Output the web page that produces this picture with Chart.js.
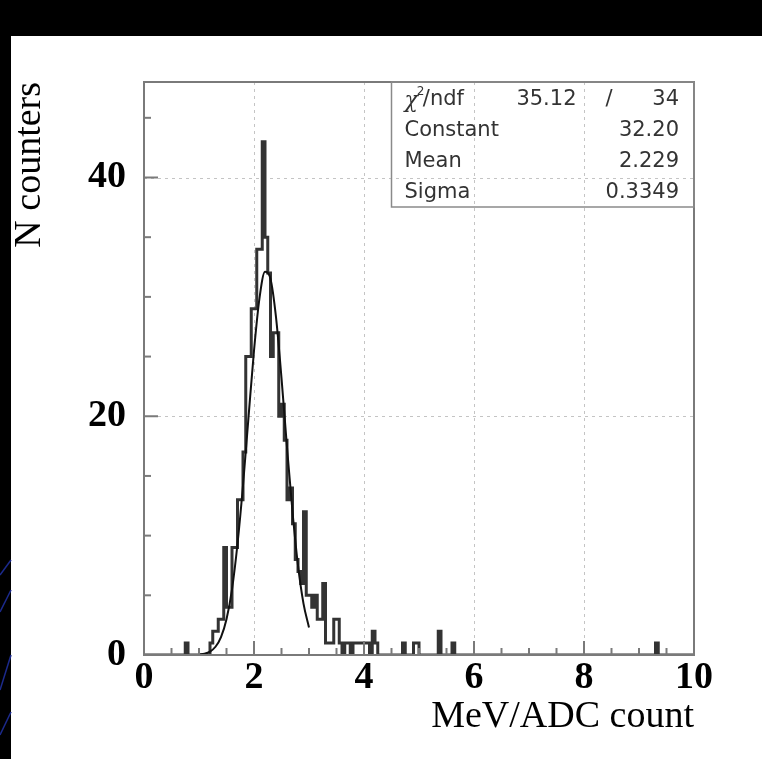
<!DOCTYPE html>
<html>
<head>
<meta charset="utf-8">
<script src="https://cdn.jsdelivr.net/npm/chart.js@4.4.1/dist/chart.umd.min.js"></script>
<style>
  html, body { margin: 0; padding: 0; background: #000; }
  #panel { position: absolute; left: 11px; top: 36px; width: 751px; height: 723px; background: #fff; }
  #chart { position: absolute; left: 0; top: 0; }
</style>
</head>
<body>
<div id="panel"></div>
<canvas id="chart" width="762" height="759"></canvas>
<script>
// Histogram: 0.05 wide bins over 0..10, only non-empty bins listed (low edge, entries)
const binWidth = 0.05;
const xMin = 0;
const xMax = 10;
const binLow = [0.75, 1.20, 1.25, 1.30, 1.35, 1.40, 1.45, 1.50, 1.55, 1.60,
                1.65, 1.70, 1.75, 1.80, 1.85, 1.90, 1.95, 2.00, 2.05, 2.10,
                2.15, 2.20, 2.25, 2.30, 2.35, 2.40, 2.45, 2.50, 2.55, 2.60,
                2.65, 2.70, 2.75, 2.80, 2.85, 2.90, 2.95, 3.00, 3.05, 3.10,
                3.15, 3.20, 3.25, 3.30, 3.35, 3.40, 3.45, 3.50, 3.55, 3.65,
                3.70, 3.80, 3.85, 3.90, 3.95, 4.00, 4.05, 4.15, 4.20, 4.70,
                4.90, 4.95, 5.35, 5.60, 9.30];
const binCount = [1, 1, 2, 2, 3, 3, 9, 4, 4, 9,
                  9, 13, 13, 17, 25, 25, 29, 29, 34, 34,
                  43, 35, 32, 25, 27, 27, 20, 21, 18, 13,
                  14, 11, 8, 7, 6, 12, 5, 5, 4, 5,
                  3, 3, 6, 1, 1, 1, 3, 3, 1, 1,
                  1, 1, 1, 1, 1, 1, 1, 2, 1, 1,
                  1, 1, 2, 1, 1];

// Gaussian fit curve
const fitX = [1.0, 1.1, 1.2, 1.3, 1.4, 1.5, 1.6, 1.7, 1.8, 1.9, 2.0,
              2.1, 2.2, 2.3, 2.4, 2.5, 2.6, 2.7, 2.8, 2.9, 3.0];
const fitY = [0.04, 0.11, 0.29, 0.69, 1.5, 3.0, 5.5, 9.3, 14.2, 19.9, 25.5,
              29.9, 32.1, 31.5, 28.3, 23.2, 17.4, 12.0, 7.5, 4.3, 2.3];

// Axis ticks
const xTicks = [0, 2, 4, 6, 8, 10];
const yTicks = [0, 20, 40];
const yMax = 48;

// Stats box
const statNames = ['Constant', 'Mean', 'Sigma'];
const statValues = ['32.20', '2.229', '0.3349'];
const chi2 = '35.12';
const ndf = '34';

// Build the full histogram step line
function buildHistogram() {
    const nBins = Math.round((xMax - xMin) / binWidth);
    const counts = new Array(nBins).fill(0);
    binLow.forEach((low, i) => {
        counts[Math.round((low - xMin) / binWidth)] = binCount[i];
    });
    const pts = counts.map((c, i) => ({ x: xMin + i * binWidth, y: c }));
    pts.push({ x: xMax, y: counts[nBins - 1] });
    return pts;
}

const serif = '"Liberation Serif", "Times New Roman", serif';

// Frame, grid, inner ticks and the stats box, ROOT style
const rootFrame = {
    id: 'rootFrame',
    beforeDraw(chart) {
        const ctx = chart.ctx;
        ctx.save();
        ctx.strokeStyle = '#1c2a8c';
        ctx.lineWidth = 1.5;
        [[575, 560], [612, 590], [690, 655], [735, 712]].forEach(([a, b]) => {
            ctx.beginPath();
            ctx.moveTo(0, a);
            ctx.lineTo(11, b);
            ctx.stroke();
        });
        ctx.restore();
    },
    beforeDatasetsDraw(chart) {
        const { ctx, chartArea: a, scales: { x, y } } = chart;
        ctx.save();
        ctx.strokeStyle = '#c4c4c4';
        ctx.lineWidth = 1;
        ctx.setLineDash([3, 4]);
        xTicks.slice(1, -1).forEach(v => {
            const px = Math.round(x.getPixelForValue(v)) + 0.5;
            ctx.beginPath();
            ctx.moveTo(px, a.top);
            ctx.lineTo(px, a.bottom);
            ctx.stroke();
        });
        yTicks.slice(1).forEach(v => {
            const py = Math.round(y.getPixelForValue(v)) + 0.5;
            ctx.beginPath();
            ctx.moveTo(a.left, py);
            ctx.lineTo(a.right, py);
            ctx.stroke();
        });
        ctx.restore();
    },
    afterDatasetsDraw(chart) {
        const { ctx, chartArea: a, scales: { x, y } } = chart;
        ctx.save();
        ctx.strokeStyle = '#7a7a7a';
        ctx.lineWidth = 2;
        // inner ticks
        for (let v = xMin; v <= xMax + 1e-9; v += 0.5) {
            const px = x.getPixelForValue(v);
            const len = Math.abs(v % 2) < 1e-6 ? 14 : 7;
            ctx.beginPath();
            ctx.moveTo(px, a.bottom);
            ctx.lineTo(px, a.bottom - len);
            ctx.stroke();
        }
        for (let v = 0; v <= yMax; v += 5) {
            const py = y.getPixelForValue(v);
            const len = v % 20 === 0 ? 14 : 7;
            ctx.beginPath();
            ctx.moveTo(a.left, py);
            ctx.lineTo(a.left + len, py);
            ctx.stroke();
        }
        ctx.strokeRect(a.left, a.top, a.right - a.left, a.bottom - a.top);

        // stats box
        const bx = x.getPixelForValue(4.5), by = a.top;
        const bw = a.right - bx, bh = 125;
        ctx.strokeStyle = '#8a8a8a';
        ctx.lineWidth = 1.5;
        ctx.strokeRect(bx, by, bw, bh);
        ctx.fillStyle = '#333';
        ctx.textBaseline = 'middle';
        const font = '21px "DejaVu Sans", sans-serif';
        ctx.font = font;
        const rowH = 31;
        const r0 = by + 18;
        const tx = bx + 13, vx = a.right - 15;
        // chi2 row
        ctx.textAlign = 'left';
        ctx.font = 'italic 22px "DejaVu Serif", serif';
        ctx.fillText('χ', tx, r0 + 1);
        const cw = ctx.measureText('χ').width;
        ctx.font = '12px "DejaVu Sans", sans-serif';
        ctx.fillText('2', tx + cw - 1, r0 - 8);
        ctx.font = font;
        ctx.fillText('/ndf', tx + cw + 5, r0);
        ctx.textAlign = 'right';
        ctx.fillText(chi2, bx + 185, r0);
        ctx.fillText('/', bx + 221, r0);
        ctx.fillText(ndf, vx, r0);
        statNames.forEach((n, i) => {
            const ry = r0 + rowH * (i + 1);
            ctx.textAlign = 'left';
            ctx.fillText(n, tx, ry);
            ctx.textAlign = 'right';
            ctx.fillText(statValues[i], vx, ry);
        });
        ctx.restore();
    }
};

new Chart(document.getElementById('chart'), {
    type: 'line',
    data: {
        datasets: [
            {
                label: 'histogram',
                data: buildHistogram(),
                stepped: true,
                borderColor: '#333',
                borderWidth: 3,
                pointRadius: 0,
                fill: false,
                order: 1
            },
            {
                label: 'fit',
                data: fitX.map((v, i) => ({ x: v, y: fitY[i] })),
                cubicInterpolationMode: 'monotone',
                borderColor: '#111',
                borderWidth: 2,
                pointRadius: 0,
                fill: false,
                order: 0
            }
        ]
    },
    options: {
        responsive: false,
        animation: false,
        events: [],
        layout: { padding: { left: 7, top: 82, right: 68, bottom: 19 } },
        plugins: { legend: { display: false }, tooltip: { enabled: false } },
        scales: {
            x: {
                type: 'linear',
                min: xMin,
                max: xMax,
                afterBuildTicks: s => { s.ticks = xTicks.map(v => ({ value: v })); },
                afterFit: s => { s.height = 85; },
                grid: { display: false, drawTicks: false },
                border: { display: false },
                ticks: {
                    padding: 4,
                    maxRotation: 0,
                    autoSkip: false,
                    color: '#000',
                    font: { family: serif, size: 38, weight: 'bold', lineHeight: 1 }
                },
                title: {
                    display: true,
                    text: 'MeV/ADC count',
                    align: 'end',
                    color: '#000',
                    padding: 4,
                    font: { family: serif, size: 38, lineHeight: 1 }
                }
            },
            y: {
                type: 'linear',
                min: 0,
                max: yMax,
                afterBuildTicks: s => { s.ticks = yTicks.map(v => ({ value: v })); },
                afterFit: s => { s.width = 137; },
                grid: { display: false, drawTicks: false },
                border: { display: false },
                ticks: {
                    padding: 18,
                    color: '#000',
                    font: { family: serif, size: 38, weight: 'bold', lineHeight: 1 }
                },
                title: {
                    display: true,
                    text: 'N counters',
                    align: 'end',
                    color: '#000',
                    padding: 4,
                    font: { family: serif, size: 38, lineHeight: 1 }
                }
            }
        }
    },
    plugins: [rootFrame]
});
</script>
</body>
</html>
